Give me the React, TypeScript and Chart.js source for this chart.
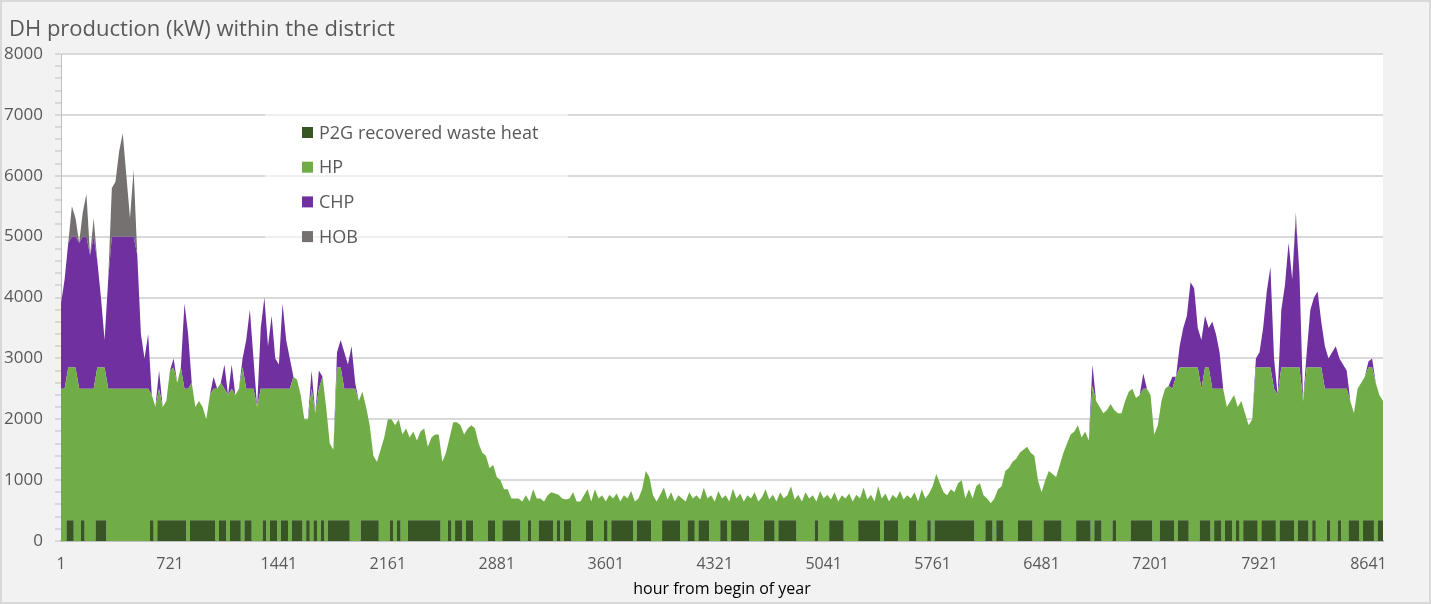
import React, { useEffect, useRef } from 'react';
import { Chart, registerables } from 'chart.js';

Chart.register(...registerables);

// One category per day; label = hour of the year at which that day starts
const hourLabels: number[] = Array.from({ length: 365 }, (_, i) => 1 + 24 * i);
const xLabelEvery = 30; // shows 1, 721, 1441, ... 8641

const chartTitle = 'DH production (kW) within the district';
const xAxisTitle = 'hour from begin of year';
const seriesNames = ['P2G recovered waste heat', 'HP', 'CHP', 'HOB'];
const seriesColors = ['#375623', '#70ad47', '#7030a0', '#767171'];

// kW, daily resolution
const p2g: number[] = [
  0, 0, 340, 340, 0, 0, 340, 0, 0, 0,
  340, 340, 340, 0, 0, 0, 0, 0, 0, 0,
  0, 0, 0, 0, 0, 340, 0, 340, 340, 340,
  340, 340, 340, 340, 340, 0, 340, 340, 340, 340,
  340, 340, 340, 0, 340, 340, 0, 340, 340, 340,
  0, 340, 340, 0, 0, 0, 340, 0, 340, 340,
  0, 340, 340, 0, 340, 340, 340, 0, 340, 0,
  340, 0, 340, 0, 340, 340, 340, 340, 340, 340,
  0, 0, 0, 340, 340, 340, 340, 340, 0, 0,
  0, 340, 0, 340, 0, 0, 340, 340, 340, 340,
  340, 340, 340, 340, 340, 0, 0, 340, 0, 340,
  340, 0, 340, 340, 0, 0, 0, 0, 340, 340,
  0, 0, 340, 340, 340, 340, 340, 0, 0, 340,
  0, 0, 340, 340, 340, 340, 0, 340, 0, 340,
  340, 0, 0, 0, 0, 340, 340, 0, 0, 0,
  340, 0, 340, 340, 340, 340, 340, 340, 0, 340,
  340, 340, 340, 0, 0, 0, 340, 340, 340, 340,
  340, 0, 0, 340, 340, 0, 340, 340, 340, 0,
  0, 0, 340, 340, 0, 340, 340, 340, 340, 340,
  0, 0, 0, 0, 340, 340, 340, 0, 340, 340,
  340, 340, 340, 0, 0, 0, 0, 0, 340, 0,
  0, 0, 340, 340, 340, 340, 0, 0, 0, 0,
  340, 340, 340, 340, 340, 340, 0, 340, 340, 340,
  340, 0, 0, 0, 340, 340, 0, 0, 0, 340,
  0, 340, 340, 340, 340, 340, 340, 340, 340, 340,
  340, 340, 0, 0, 0, 340, 340, 0, 340, 340,
  0, 0, 0, 0, 340, 340, 340, 340, 0, 0,
  0, 340, 340, 340, 340, 340, 0, 0, 0, 0,
  340, 340, 340, 340, 0, 340, 340, 0, 0, 0,
  340, 0, 0, 0, 0, 340, 340, 340, 340, 340,
  340, 0, 0, 340, 340, 340, 340, 0, 340, 340,
  340, 0, 0, 0, 340, 340, 340, 0, 340, 340,
  0, 340, 340, 0, 340, 0, 340, 340, 340, 340,
  0, 340, 340, 340, 340, 0, 340, 340, 340, 340,
  0, 340, 340, 340, 0, 340, 0, 0, 0, 340,
  0, 0, 340, 0, 0, 340, 340, 340, 0, 340,
  340, 340, 0, 340, 340,
];

const hp: number[] = [
  2500, 2500, 2510, 2510, 2850, 2500, 2160, 2500, 2500, 2500,
  2510, 2510, 2510, 2500, 2500, 2500, 2500, 2500, 2500, 2500,
  2500, 2500, 2500, 2500, 2500, 2060, 2200, 2160, 1860, 1960,
  2460, 2510, 2260, 2510, 2160, 2500, 2260, 1860, 1960, 1860,
  1660, 2060, 2160, 2500, 2260, 2160, 2400, 2160, 2060, 2160,
  2850, 2160, 2160, 2500, 2200, 2500, 2160, 2500, 2160, 2160,
  2500, 2160, 2160, 2500, 2360, 2310, 2060, 2000, 1660, 2500,
  1760, 2500, 2360, 2200, 1260, 1160, 2510, 2510, 2160, 2160,
  2500, 2500, 2300, 2110, 1860, 1560, 1060, 960, 1500, 1700,
  2000, 1660, 1900, 1660, 1750, 1850, 1360, 1460, 1310, 1460,
  1510, 1210, 1360, 1410, 1410, 1300, 1450, 1360, 1950, 1610,
  1560, 1750, 1510, 1560, 1850, 1600, 1450, 1400, 860, 910,
  1050, 1000, 510, 510, 360, 360, 360, 650, 750, 310,
  850, 700, 360, 310, 410, 460, 780, 420, 700, 340,
  360, 800, 650, 650, 750, 510, 310, 850, 700, 750,
  310, 760, 360, 440, 310, 410, 360, 480, 650, 360,
  510, 810, 710, 750, 650, 760, 540, 340, 460, 310,
  410, 700, 650, 460, 360, 750, 340, 540, 360, 750,
  650, 820, 360, 410, 650, 520, 360, 440, 310, 410,
  700, 800, 650, 720, 510, 340, 420, 650, 460, 360,
  410, 560, 340, 760, 650, 800, 700, 750, 310, 820,
  700, 760, 340, 460, 310, 410, 700, 780, 650, 760,
  360, 540, 340, 420, 310, 560, 700, 440, 310, 420,
  360, 820, 680, 750, 360, 460, 650, 850, 700, 440,
  900, 760, 610, 460, 410, 510, 460, 610, 660, 360,
  510, 360, 900, 950, 750, 360, 280, 700, 510, 560,
  1150, 1200, 1300, 1350, 1110, 1160, 1210, 1110, 1400, 1000,
  800, 660, 810, 760, 710, 910, 1450, 1600, 1750, 1800,
  1560, 1360, 1460, 1310, 2550, 1960, 1860, 2100, 2150, 2250,
  1810, 2100, 2100, 2300, 2450, 2160, 2010, 2060, 2160, 2160,
  2060, 1750, 1900, 1960, 2160, 2210, 2160, 2700, 2510, 2510,
  2510, 2850, 2850, 2850, 2160, 2510, 2510, 2500, 2160, 2160,
  2500, 1860, 1960, 2400, 1860, 2300, 1760, 1560, 1660, 2510,
  2850, 2510, 2510, 2510, 2160, 2400, 2510, 2510, 2510, 2510,
  2850, 2510, 1960, 2510, 2850, 2510, 2850, 2850, 2500, 2160,
  2500, 2500, 2160, 2500, 2500, 1960, 1760, 2160, 2600, 2360,
  2510, 2510, 2600, 2060, 1960,
];

const chp: number[] = [
  1400, 1800, 2050, 2150, 2150, 2400, 2500, 2500, 2200, 2500,
  1750, 1150, 450, 1800, 2500, 2500, 2500, 2500, 2500, 2500,
  2500, 2200, 900, 500, 900, 0, 0, 300, 0, 0,
  0, 150, 0, 0, 1400, 900, 0, 0, 0, 0,
  0, 0, 200, 0, 0, 400, 0, 400, 0, 0,
  150, 800, 1300, 500, 0, 1000, 1500, 700, 1200, 500,
  400, 1400, 800, 500, 0, 0, 0, 0, 0, 300,
  0, 300, 0, 0, 0, 0, 250, 450, 600, 400,
  700, 100, 0, 0, 0, 0, 0, 0, 0, 0,
  0, 0, 0, 0, 0, 0, 0, 0, 0, 0,
  0, 0, 0, 0, 0, 0, 0, 0, 0, 0,
  0, 0, 0, 0, 0, 0, 0, 0, 0, 0,
  0, 0, 0, 0, 0, 0, 0, 0, 0, 0,
  0, 0, 0, 0, 0, 0, 0, 0, 0, 0,
  0, 0, 0, 0, 0, 0, 0, 0, 0, 0,
  0, 0, 0, 0, 0, 0, 0, 0, 0, 0,
  0, 0, 0, 0, 0, 0, 0, 0, 0, 0,
  0, 0, 0, 0, 0, 0, 0, 0, 0, 0,
  0, 0, 0, 0, 0, 0, 0, 0, 0, 0,
  0, 0, 0, 0, 0, 0, 0, 0, 0, 0,
  0, 0, 0, 0, 0, 0, 0, 0, 0, 0,
  0, 0, 0, 0, 0, 0, 0, 0, 0, 0,
  0, 0, 0, 0, 0, 0, 0, 0, 0, 0,
  0, 0, 0, 0, 0, 0, 0, 0, 0, 0,
  0, 0, 0, 0, 0, 0, 0, 0, 0, 0,
  0, 0, 0, 0, 0, 0, 0, 0, 0, 0,
  0, 0, 0, 0, 0, 0, 0, 0, 0, 0,
  0, 0, 0, 0, 0, 0, 0, 0, 0, 0,
  0, 0, 0, 0, 350, 0, 0, 0, 0, 0,
  0, 0, 0, 0, 0, 0, 0, 0, 250, 0,
  0, 0, 0, 0, 0, 0, 200, 0, 350, 650,
  850, 1400, 1300, 650, 800, 850, 650, 1100, 900, 600,
  0, 0, 0, 0, 0, 0, 0, 0, 0, 150,
  250, 650, 1250, 1650, 500, 0, 950, 1350, 2050, 1450,
  2450, 1550, 0, 250, 950, 1150, 1250, 750, 700, 500,
  600, 700, 500, 400, 300, 0, 0, 0, 0, 0,
  100, 150, 0, 0, 0,
];

const hob: number[] = [
  0, 0, 0, 500, 300, 0, 400, 700, 0, 300,
  0, 0, 0, 0, 800, 900, 1400, 1700, 1000, 300,
  1100, 0, 0, 0, 0, 0, 0, 0, 0, 0,
  0, 0, 0, 0, 0, 0, 0, 0, 0, 0,
  0, 0, 0, 0, 0, 0, 0, 0, 0, 0,
  0, 0, 0, 0, 0, 0, 0, 0, 0, 0,
  0, 0, 0, 0, 0, 0, 0, 0, 0, 0,
  0, 0, 0, 0, 0, 0, 0, 0, 0, 0,
  0, 0, 0, 0, 0, 0, 0, 0, 0, 0,
  0, 0, 0, 0, 0, 0, 0, 0, 0, 0,
  0, 0, 0, 0, 0, 0, 0, 0, 0, 0,
  0, 0, 0, 0, 0, 0, 0, 0, 0, 0,
  0, 0, 0, 0, 0, 0, 0, 0, 0, 0,
  0, 0, 0, 0, 0, 0, 0, 0, 0, 0,
  0, 0, 0, 0, 0, 0, 0, 0, 0, 0,
  0, 0, 0, 0, 0, 0, 0, 0, 0, 0,
  0, 0, 0, 0, 0, 0, 0, 0, 0, 0,
  0, 0, 0, 0, 0, 0, 0, 0, 0, 0,
  0, 0, 0, 0, 0, 0, 0, 0, 0, 0,
  0, 0, 0, 0, 0, 0, 0, 0, 0, 0,
  0, 0, 0, 0, 0, 0, 0, 0, 0, 0,
  0, 0, 0, 0, 0, 0, 0, 0, 0, 0,
  0, 0, 0, 0, 0, 0, 0, 0, 0, 0,
  0, 0, 0, 0, 0, 0, 0, 0, 0, 0,
  0, 0, 0, 0, 0, 0, 0, 0, 0, 0,
  0, 0, 0, 0, 0, 0, 0, 0, 0, 0,
  0, 0, 0, 0, 0, 0, 0, 0, 0, 0,
  0, 0, 0, 0, 0, 0, 0, 0, 0, 0,
  0, 0, 0, 0, 0, 0, 0, 0, 0, 0,
  0, 0, 0, 0, 0, 0, 0, 0, 0, 0,
  0, 0, 0, 0, 0, 0, 0, 0, 0, 0,
  0, 0, 0, 0, 0, 0, 0, 0, 0, 0,
  0, 0, 0, 0, 0, 0, 0, 0, 0, 0,
  0, 0, 0, 0, 0, 0, 0, 0, 0, 0,
  100, 0, 0, 0, 0, 0, 0, 0, 0, 0,
  0, 0, 0, 0, 0, 0, 0, 0, 0, 0,
  0, 0, 0, 0, 0,
];

const seriesData = [p2g, hp, chp, hob];

const FONT = '"Open Sans", "Noto Sans", sans-serif';

const backgroundPlugin = {
  id: 'excelBackground',
  beforeDraw(chart: any) {
    const { ctx, chartArea: a, width, height } = chart;
    ctx.save();
    ctx.fillStyle = '#f2f2f2';
    ctx.fillRect(0, 0, width, height);
    ctx.fillStyle = '#ffffff';
    ctx.fillRect(a.left, a.top, a.right - a.left, a.bottom - a.top);
    ctx.strokeStyle = '#d9d9d9';
    ctx.lineWidth = 2;
    ctx.strokeRect(1, 1, width - 2, height - 2);
    ctx.fillStyle = '#595959';
    ctx.font = `22px ${FONT}`;
    ctx.textBaseline = 'alphabetic';
    ctx.textAlign = 'left';
    ctx.fillText(chartTitle, 9, 36);
    ctx.restore();
  },
};

const legendPlugin = {
  id: 'innerLegend',
  beforeDatasetsDraw(chart: any) {
    const { ctx } = chart;
    ctx.save();
    ctx.fillStyle = 'rgba(255,255,255,0.6)';
    ctx.fillRect(265, 108, 303, 146);
    ctx.font = `18px ${FONT}`;
    ctx.textBaseline = 'middle';
    ctx.textAlign = 'left';
    chart.data.datasets.forEach((ds: any, i: number) => {
      const cy = 132.5 + i * 34.7;
      ctx.fillStyle = ds.backgroundColor;
      ctx.fillRect(302, cy - 5.5, 11, 11);
      ctx.fillStyle = '#595959';
      ctx.fillText(ds.label, 319, cy + 1);
    });
    ctx.restore();
  },
};

export default function App() {
  const canvasRef = useRef<HTMLCanvasElement | null>(null);

  useEffect(() => {
    document.body.style.margin = '0';
    const canvas = canvasRef.current;
    if (!canvas) return;
    const chart = new Chart(canvas, {
      type: 'line',
      data: {
        labels: hourLabels,
        datasets: seriesNames.map((name, k) => ({
          label: name,
          data: seriesData[k],
          backgroundColor: seriesColors[k],
          borderColor: 'rgba(0,0,0,0)',
          borderWidth: 0,
          pointRadius: 0,
          pointHoverRadius: 0,
          tension: 0,
          stepped: k === 0 ? 'middle' : false,
          fill: k === 0 ? 'origin' : '-1',
        })),
      },
      options: {
        responsive: false,
        animation: false,
        events: [],
        layout: { padding: { left: 0, right: 48, top: 54, bottom: 0 } },
        plugins: {
          legend: { display: false },
          tooltip: { enabled: false },
          title: { display: false },
        },
        scales: {
          x: {
            type: 'category',
            offset: false,
            grid: { display: false, drawTicks: false },
            border: { display: true, color: '#bfbfbf', width: 2 },
            ticks: {
              autoSkip: false,
              maxRotation: 0,
              minRotation: 0,
              padding: 14,
              color: '#595959',
              font: { family: FONT, size: 16 },
              callback: (_v: any, i: number) => (i % xLabelEvery === 0 ? String(hourLabels[i]) : ''),
            },
            title: {
              display: true,
              text: xAxisTitle,
              color: '#000000',
              font: { family: FONT, size: 16 },
              padding: { top: 0, bottom: 5 },
            },
            afterFit: (s: any) => {
              s.height = 63;
            },
          },
          y: {
            stacked: true,
            min: 0,
            max: 8000,
            ticks: {
              stepSize: 200,
              autoSkip: false,
              padding: 12,
              color: '#595959',
              font: { family: FONT, size: 17 },
              callback: (v: any) => (Number(v) % 1000 === 0 ? String(v) : ''),
            },
            grid: {
              color: (c: any) => (c.tick && c.tick.value % 1000 === 0 ? '#d9d9d9' : 'rgba(0,0,0,0)'),
              lineWidth: 2,
              tickColor: '#bfbfbf',
              tickWidth: 1,
              tickLength: 6,
            },
            border: { display: true, color: '#bfbfbf', width: 1 },
            afterFit: (s: any) => {
              s.width = 61;
            },
          },
        },
      },
      plugins: [backgroundPlugin, legendPlugin],
    } as any);
    return () => chart.destroy();
  }, []);

  return (
    <div style={{ position: 'absolute', left: 0, top: 0, width: 1431, height: 604 }}>
      <canvas ref={canvasRef} width={1431} height={604} />
    </div>
  );
}
